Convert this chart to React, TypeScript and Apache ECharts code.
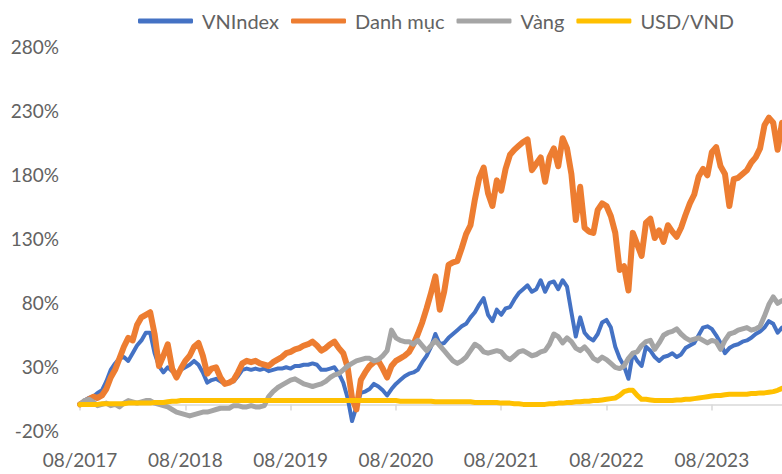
import React, { useEffect, useRef } from "react";
import * as echarts from "echarts";

// Semi-monthly sample points from 01/08/2017 to 01/04/2024 (161 points)
const startYear = 2017;
const startMonth = 8;
const categories: string[] = [];
for (let m = 0; m <= 80; m++) {
  const mm = ((startMonth - 1 + m) % 12) + 1;
  const yy = startYear + Math.floor((startMonth - 1 + m) / 12);
  const mmS = (mm < 10 ? "0" : "") + mm;
  categories.push("01/" + mmS + "/" + yy);
  if (m < 80) categories.push("16/" + mmS + "/" + yy);
}

const seriesNames = ["VNIndex", "Danh mục", "Vàng", "USD/VND"];

const vnindex = [
  0, 3, 5, 6, 9, 11, 18, 27, 32, 36,
  37, 34, 40, 46, 50, 56, 56, 40, 30, 25,
  29, 26, 24, 27, 29, 31, 34, 31, 25, 17,
  19, 20, 18, 16, 17, 18, 22, 27, 28, 27,
  28, 27, 28, 26, 27, 28, 28, 29, 28, 30,
  30, 31, 31, 32, 31, 27, 27, 28, 29, 24,
  17, 5, -13, -2, 9, 10, 12, 16, 14, 11,
  7, 12, 16, 19, 22, 24, 25, 27, 33, 38,
  45, 55, 47, 48, 52, 55, 58, 61, 63, 68,
  72, 78, 83, 70, 65, 74, 70, 75, 76, 82,
  87, 90, 93, 88, 90, 97, 88, 95, 96, 90,
  97, 92, 72, 53, 68, 56, 52, 50, 55, 64,
  66, 60, 45, 36, 30, 20, 40, 34, 30, 45,
  42, 37, 34, 37, 38, 40, 37, 39, 44, 46,
  48, 54, 60, 61, 59, 54, 48, 40, 44, 46,
  47, 49, 50, 52, 55, 57, 60, 65, 63, 56,
  60,
];

const danhMuc = [
  0, 2, 4, 6, 5, 7, 12, 21, 27, 36,
  45, 52, 50, 62, 68, 70, 72, 55, 30, 38,
  47, 28, 21, 28, 34, 38, 45, 48, 38, 24,
  28, 29, 21, 16, 17, 19, 25, 32, 34, 33,
  34, 32, 31, 30, 33, 35, 37, 40, 41, 43,
  44, 46, 47, 49, 46, 42, 44, 47, 49, 44,
  40, 29, 5, -4, 19, 25, 30, 33, 34, 28,
  21, 30, 34, 36, 38, 41, 47, 55, 64, 75,
  87, 100, 74, 88, 109, 111, 112, 122, 133, 140,
  160, 177, 185, 165, 155, 175, 167, 184, 195, 199,
  202, 205, 207, 183, 188, 193, 174, 193, 200, 186,
  208, 200, 180, 144, 170, 138, 135, 134, 152, 157,
  155, 147, 134, 105, 108, 89, 134, 125, 116, 142,
  145, 130, 136, 127, 140, 135, 131, 138, 148, 157,
  164, 178, 184, 179, 197, 201, 186, 180, 155, 176,
  177, 180, 183, 189, 193, 200, 218, 224, 220, 199,
  220,
];

const vang = [
  0, 3, 4, 2, -1, 0, 1, -1, 0, -2,
  1, 3, 2, 1, 2, 3, 3, 1, 0, -1,
  -2, -4, -6, -7, -8, -9, -8, -7, -6, -6,
  -5, -4, -3, -3, -3, -1, -1, -2, -2, -1,
  -2, -2, -1, 6, 10, 13, 15, 17, 19, 20,
  18, 16, 15, 14, 15, 16, 18, 21, 23, 24,
  27, 30, 32, 34, 35, 36, 36, 34, 35, 38,
  42, 58, 52, 50, 49, 49, 47, 50, 46, 42,
  46, 50, 46, 42, 38, 34, 32, 34, 37, 42,
  47, 45, 41, 40, 41, 42, 41, 37, 35, 38,
  41, 42, 40, 38, 39, 41, 42, 47, 55, 53,
  48, 52, 49, 44, 42, 45, 41, 36, 34, 37,
  35, 32, 29, 28, 30, 36, 40, 41, 46, 49,
  50, 43, 48, 54, 56, 57, 59, 55, 52, 50,
  51, 52, 50, 48, 50, 49, 43, 50, 55, 56,
  58, 59, 60, 58, 59, 61, 69, 78, 84, 79,
  81,
];

const usdVnd = [
  0, 0, 0, 0, 0, 0.5, 0.5, 0.5, 0.5, 0.5,
  0.5, 1, 1, 1, 1, 1, 1, 1.5, 1.5, 1.5,
  2, 2.5, 2.5, 3, 3, 3, 3, 3, 3, 3,
  3, 3, 3, 3, 3, 3, 3, 3, 3, 3,
  3, 3, 3, 3, 3, 3, 3, 3, 3, 3,
  3, 3, 3, 3, 3, 3, 3, 3, 3, 3,
  3, 3, 3, 3, 3, 3, 3, 3, 3, 3,
  3, 3, 3, 2.5, 2.5, 2.5, 2.5, 2.5, 2.5, 2.5,
  2.5, 2, 2, 2, 2, 2, 2, 2, 2, 2,
  1.5, 1.5, 1.5, 1.5, 1.5, 1.5, 1, 1, 1, 0.5,
  0.5, 0, 0, 0, 0, 0, 0, 0.5, 0.5, 1,
  1, 1.5, 1.5, 2, 2, 2.5, 2.5, 3, 3, 3.5,
  4, 4.5, 5, 7, 10, 11, 11, 7, 4, 4,
  3.5, 3, 3, 3, 3, 3, 3.5, 3.5, 4, 4,
  4.5, 5, 5.5, 6, 6.5, 7, 7, 7.5, 8, 8,
  8, 8, 8, 8.5, 8.5, 9, 9, 9.5, 10, 11,
  12.5,
];

const yMin = -20;
const yMax = 280;
const yStep = 50;

const colors = ["#4472C4", "#ED7D31", "#A5A5A5", "#FFC000"];
const widths = [4, 6, 5, 5];
const FONT = "Lato, 'Open Sans', sans-serif";
const TEXT = "#626262";

const isYearTick = (index: number) => index % 24 === 0;
const fmtDate = (v: string) => {
  const p = v.split("/");
  return p[1] + "/" + p[2];
};

export default function App() {
  const ref = useRef<HTMLDivElement>(null);
  useEffect(() => {
    if (!ref.current) return;
    const chart = echarts.init(ref.current, undefined, { renderer: "svg" });
    const data = [vnindex, danhMuc, vang, usdVnd];
    chart.setOption({
      animation: false,
      textStyle: { fontFamily: FONT },
      legend: {
        top: 6,
        left: 133,
        icon: "roundRect",
        itemWidth: 55,
        itemHeight: 5,
        itemGap: 12,
        textStyle: { color: TEXT, fontSize: 20, fontFamily: FONT, padding: [0, 0, 0, 4] },
        data: seriesNames,
      },
      grid: { left: 80, right: 0, top: 46, bottom: 44, containLabel: false },
      xAxis: [
        {
          type: "category",
          data: categories,
          boundaryGap: false,
          axisLine: { onZero: true, lineStyle: { color: "#D9D9D9", width: 1.5 } },
          axisTick: { show: true, interval: (i: number) => isYearTick(i), length: 6, lineStyle: { color: "#D9D9D9", width: 1.5 } },
          axisLabel: { show: false },
          splitLine: { show: false },
        },
        {
          type: "category",
          data: categories,
          boundaryGap: false,
          position: "bottom",
          axisLine: { show: false, onZero: false },
          axisTick: { show: false },
          axisLabel: {
            show: true,
            interval: (i: number) => isYearTick(i),
            formatter: fmtDate,
            color: TEXT,
            fontSize: 19,
            fontFamily: FONT,
            margin: 20,
          },
          splitLine: { show: false },
        },
      ],
      yAxis: {
        type: "value",
        min: yMin,
        max: yMax,
        interval: yStep,
        axisLine: { show: false },
        axisTick: { show: false },
        splitLine: { show: false },
        axisLabel: {
          color: TEXT,
          fontSize: 19,
          fontFamily: FONT,
          margin: 21,
          formatter: (v: number) => v + "%",
        },
      },
      series: seriesNames.map((name, k) => ({
        name,
        type: "line",
        xAxisIndex: 0,
        data: data[k],
        symbol: "none",
        color: colors[k],
        lineStyle: { color: colors[k], width: widths[k], join: "round", cap: "round" },
      })),
    });
    return () => chart.dispose();
  }, []);
  return (
    <div
      ref={ref}
      style={{ position: "absolute", left: 0, top: 0, width: 782, height: 474, background: "#fff" }}
    />
  );
}
